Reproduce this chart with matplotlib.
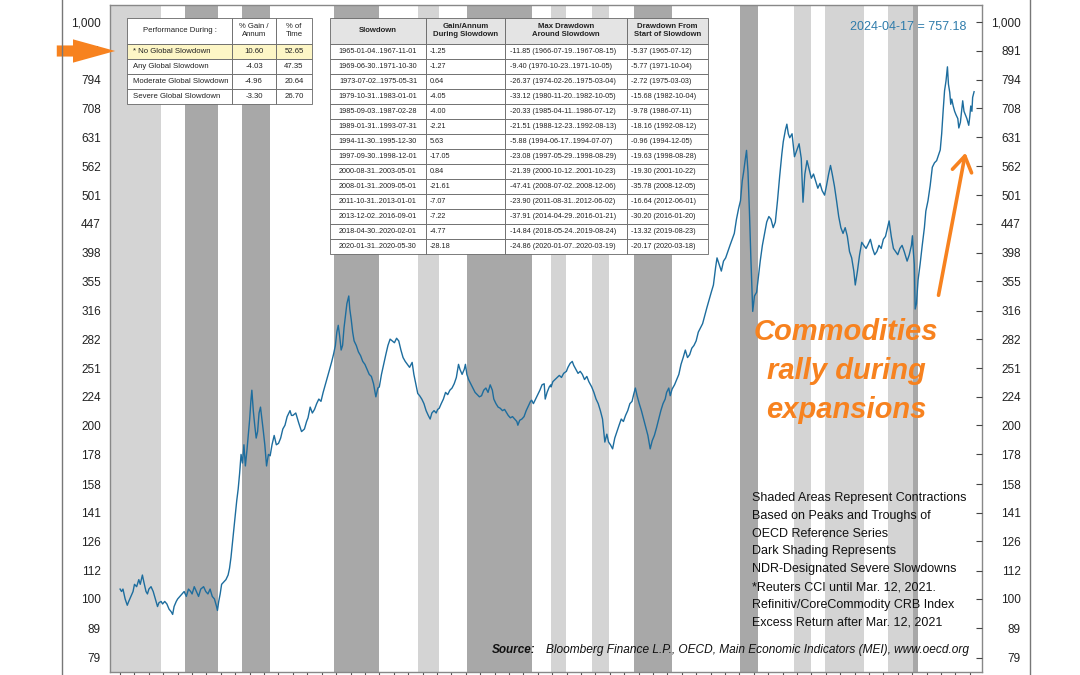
import matplotlib.pyplot as plt
from matplotlib.ticker import NullLocator

plt.rcParams['font.family'] = ['Liberation Sans', 'DejaVu Sans']

# commodity index (decimal year, index level)
years = [
    1965.0, 1965.1, 1965.2, 1965.35, 1965.5, 1965.6, 1965.75, 1965.9,
    1966.0, 1966.15, 1966.3, 1966.4, 1966.55, 1966.65, 1966.8, 1966.9,
    1967.0, 1967.15, 1967.3, 1967.45, 1967.6, 1967.7, 1967.85, 1967.95,
    1968.1, 1968.25, 1968.4, 1968.55, 1968.65, 1968.75, 1968.9,
    1969.0, 1969.15, 1969.3, 1969.45, 1969.6, 1969.75, 1969.9,
    1970.0, 1970.15, 1970.3, 1970.45, 1970.6, 1970.8, 1970.95,
    1971.1, 1971.25, 1971.4, 1971.55, 1971.7, 1971.76, 1971.85, 1971.95,
    1972.05, 1972.2, 1972.35, 1972.5, 1972.6, 1972.7, 1972.8, 1972.9,
    1973.0, 1973.1, 1973.2, 1973.3, 1973.4, 1973.5, 1973.6, 1973.7, 1973.8, 1973.9,
    1974.0, 1974.08, 1974.15, 1974.25, 1974.35, 1974.45, 1974.55, 1974.65, 1974.75, 1974.85, 1974.95,
    1975.05, 1975.17, 1975.3, 1975.42, 1975.55, 1975.7, 1975.85,
    1976.0, 1976.15, 1976.3, 1976.45, 1976.6, 1976.8, 1976.9,
    1977.0, 1977.2, 1977.4, 1977.6, 1977.8, 1977.95,
    1978.05, 1978.2, 1978.35, 1978.5, 1978.65, 1978.8, 1978.95,
    1979.1, 1979.25, 1979.4, 1979.55, 1979.7, 1979.83, 1979.95,
    1980.05, 1980.15, 1980.25, 1980.35, 1980.45, 1980.55, 1980.65, 1980.75, 1980.88, 1980.95,
    1981.05, 1981.15, 1981.25, 1981.4, 1981.55, 1981.7, 1981.85,
    1982.0, 1982.15, 1982.3, 1982.45, 1982.6, 1982.76, 1982.9,
    1983.0, 1983.15, 1983.3, 1983.45, 1983.6, 1983.75, 1983.9,
    1984.05, 1984.2, 1984.35, 1984.5, 1984.65, 1984.8, 1984.95,
    1985.1, 1985.28, 1985.4, 1985.55, 1985.67, 1985.8, 1985.95,
    1986.1, 1986.25, 1986.4, 1986.53, 1986.65, 1986.8, 1986.95,
    1987.05, 1987.16, 1987.3, 1987.45, 1987.6, 1987.75, 1987.9,
    1988.05, 1988.2, 1988.35, 1988.5, 1988.6, 1988.75, 1988.9, 1988.98,
    1989.08, 1989.2, 1989.35, 1989.5, 1989.65, 1989.8, 1989.95,
    1990.1, 1990.25, 1990.4, 1990.55, 1990.7, 1990.85, 1990.95,
    1991.1, 1991.25, 1991.4, 1991.55, 1991.7, 1991.85, 1991.95,
    1992.1, 1992.25, 1992.4, 1992.55, 1992.62, 1992.75, 1992.9,
    1993.05, 1993.2, 1993.35, 1993.5, 1993.58, 1993.7, 1993.85,
    1994.0, 1994.15, 1994.3, 1994.45, 1994.52, 1994.65, 1994.8, 1994.91, 1994.93,
    1995.05, 1995.2, 1995.35, 1995.5, 1995.65, 1995.8, 1995.99,
    1996.1, 1996.25, 1996.4, 1996.5, 1996.65, 1996.8, 1996.95,
    1997.1, 1997.25, 1997.41, 1997.55, 1997.75, 1997.9,
    1998.05, 1998.2, 1998.35, 1998.5, 1998.66, 1998.8, 1998.92,
    1999.05, 1999.2, 1999.35, 1999.5, 1999.65, 1999.8, 1999.95,
    2000.1, 2000.25, 2000.4, 2000.55, 2000.66, 2000.78, 2000.9,
    2001.05, 2001.2, 2001.35, 2001.5, 2001.65, 2001.81, 2001.95,
    2002.1, 2002.25, 2002.4, 2002.55, 2002.7, 2002.85, 2002.95,
    2003.1, 2003.2, 2003.33, 2003.5, 2003.65, 2003.8, 2003.95,
    2004.1, 2004.25, 2004.4, 2004.55, 2004.7, 2004.85,
    2005.0, 2005.15, 2005.3, 2005.45, 2005.6, 2005.75, 2005.9,
    2006.05, 2006.2, 2006.35, 2006.45, 2006.6, 2006.75, 2006.9,
    2007.05, 2007.2, 2007.35, 2007.5, 2007.65, 2007.8, 2007.95,
    2008.08, 2008.2, 2008.3, 2008.4, 2008.5, 2008.6, 2008.7, 2008.8, 2008.93,
    2009.05, 2009.2, 2009.33, 2009.45, 2009.6, 2009.75, 2009.9,
    2010.05, 2010.2, 2010.35, 2010.5, 2010.65, 2010.8, 2010.95,
    2011.05, 2011.2, 2011.3, 2011.4, 2011.5, 2011.66, 2011.83,
    2012.0, 2012.15, 2012.3, 2012.42, 2012.55, 2012.7, 2012.85,
    2013.0, 2013.15, 2013.3, 2013.45, 2013.6, 2013.75, 2013.92,
    2014.05, 2014.2, 2014.33, 2014.45, 2014.6, 2014.75, 2014.9,
    2015.05, 2015.2, 2015.35, 2015.5, 2015.65, 2015.8, 2015.95,
    2016.05, 2016.2, 2016.35, 2016.5, 2016.67, 2016.8, 2016.95,
    2017.1, 2017.25, 2017.4, 2017.55, 2017.7, 2017.85,
    2018.0, 2018.15, 2018.33, 2018.4, 2018.55, 2018.7, 2018.85,
    2019.0, 2019.15, 2019.3, 2019.45, 2019.65, 2019.8, 2019.95,
    2020.02, 2020.08, 2020.15, 2020.21, 2020.3, 2020.41, 2020.55, 2020.7, 2020.85, 2020.95,
    2021.1, 2021.25, 2021.4, 2021.55, 2021.7, 2021.85, 2021.95,
    2022.05, 2022.15, 2022.25, 2022.35, 2022.45, 2022.52, 2022.61, 2022.68, 2022.75, 2022.85, 2022.95,
    2023.05, 2023.17, 2023.24, 2023.35, 2023.51, 2023.6, 2023.7, 2023.8, 2023.93,
    2024.0, 2024.07, 2024.15, 2024.2, 2024.3]
index_values = [
    104, 103, 104, 100, 97.5, 99, 101, 103,
    106, 105, 108, 106, 110, 107, 103, 102,
    104, 105, 103, 100, 97, 98.5, 99, 98,
    99, 98, 96, 95, 94, 97, 99,
    100, 101, 102, 103, 101, 104, 103,
    102, 105, 103, 101, 104, 105, 103,
    102, 104, 101, 100, 97, 95.5, 99, 102,
    106, 107, 108, 110, 113, 118, 125, 133,
    140, 148, 155, 165, 178, 172, 185, 170, 180, 192,
    205, 220, 230, 212, 200, 190, 195, 210, 215, 205, 195,
    185, 170, 178, 177, 185, 192, 185,
    186, 190, 197, 200, 207, 212, 208,
    208, 210, 202, 195, 197, 203,
    206, 215, 210, 213, 218, 222, 220,
    228, 235, 242, 250, 258, 266, 275,
    290, 298, 285, 270, 275, 295, 310, 325, 335, 318,
    305, 290, 280, 275, 268, 264, 258,
    255, 250, 245, 243, 236, 224, 232,
    233, 245, 255, 265, 275, 282, 280,
    278, 283, 280, 270, 262, 258, 255,
    252, 257, 245, 235, 227, 225, 222,
    218, 212, 208, 205, 210, 212, 210,
    213, 214, 218, 222, 228, 226, 230,
    232, 236, 242, 255, 250, 245, 250, 255,
    245, 240, 236, 232, 228, 226, 224,
    225, 230, 232, 228, 235, 230, 222,
    218, 215, 214, 212, 213, 210, 208,
    206, 207, 205, 203, 200, 204, 205,
    207, 212, 216, 220, 221, 218, 222,
    226, 230, 235, 236, 222, 228, 233, 235, 233,
    238, 240, 242, 244, 242, 246, 248,
    252, 256, 258, 254, 250, 246, 248,
    245, 240, 243, 238, 233, 228,
    222, 218, 212, 205, 187, 193, 187,
    185, 182, 190, 195, 200, 205, 203,
    208, 212, 218, 220, 226, 232, 225,
    218, 212, 205, 198, 192, 182, 188,
    192, 198, 205, 212, 218, 222, 228,
    232, 225, 231, 235, 240, 245, 255,
    262, 270, 262, 265, 272, 275,
    280, 290, 295, 300, 310, 320, 330,
    340, 350, 375, 390, 380, 370, 385,
    390, 400, 410, 420, 430, 455, 475,
    490, 530, 550, 575, 599, 550, 470, 390, 315,
    335, 340, 362, 385, 410, 430, 450,
    460, 455, 440, 450, 490, 540, 590,
    620, 650, 665, 640, 630, 640, 584,
    600, 615, 580, 487, 545, 575, 555,
    536, 545, 530, 515, 525, 510, 501,
    520, 545, 564, 545, 520, 490, 460,
    440, 430, 440, 425, 400, 390, 370,
    350, 370, 395, 415, 409, 405, 412,
    420, 405, 395, 400, 410, 405,
    420, 425, 444, 452, 425, 405, 400,
    395, 405, 410, 400, 385, 395, 410,
    426, 401, 380, 318, 325, 357, 380, 410, 440, 470,
    490, 520, 560, 570, 575, 590, 600,
    640, 700, 760, 790, 836, 780, 755, 720, 735, 715, 700,
    690, 680, 655, 670, 730, 700, 690, 680, 662,
    685, 715, 700, 740, 757]

# OECD-based slowdowns, start / end in decimal years; severe ones get dark shading
band_start = [1964.3, 1969.49, 1973.5, 1979.83, 1985.67, 1989.08, 1994.91, 1997.75,
              2000.66, 2008.08, 2011.83, 2013.92, 2018.33, 2020.08]
band_end = [1967.83, 1971.83, 1975.41, 1983.0, 1987.16, 1993.58, 1995.99, 1998.92,
            2003.33, 2009.33, 2013.0, 2016.67, 2020.08, 2020.41]
band_severe = [False, True, True, True, False, True, False, False,
               True, True, False, False, False, True]

tick_values = [79, 89, 100, 112, 126, 141, 158, 178, 200, 224, 251, 282, 316, 355,
               398, 447, 501, 562, 631, 708, 794, 891, 1000]
tick_labels = ['79', '89', '100', '112', '126', '141', '158', '178', '200', '224',
               '251', '282', '316', '355', '398', '447', '501', '562', '631', '708',
               '794', '891', '1,000']

perf_rows = [['Performance During :', '% Gain /\nAnnum', '% of\nTime'],
             ['* No Global Slowdown', '10.60', '52.65'],
             ['Any Global Slowdown', '-4.03', '47.35'],
             ['Moderate Global Slowdown', '-4.96', '20.64'],
             ['Severe Global Slowdown', '-3.30', '26.70']]

slow_header = ['Slowdown', 'Gain/Annum\nDuring Slowdown', 'Max Drawdown\nAround Slowdown',
               'Drawdown From\nStart of Slowdown']
slow_periods = ['1965-01-04..1967-11-01', '1969-06-30..1971-10-30', '1973-07-02..1975-05-31',
                '1979-10-31..1983-01-01', '1985-09-03..1987-02-28', '1989-01-31..1993-07-31',
                '1994-11-30..1995-12-30', '1997-09-30..1998-12-01', '2000-08-31..2003-05-01',
                '2008-01-31..2009-05-01', '2011-10-31..2013-01-01', '2013-12-02..2016-09-01',
                '2018-04-30..2020-02-01', '2020-01-31..2020-05-30']
slow_gain = ['-1.25', '-1.27', '0.64', '-4.05', '-4.00', '-2.21', '5.63', '-17.05', '0.84',
             '-21.61', '-7.07', '-7.22', '-4.77', '-28.18']
slow_maxdd = ['-11.85 (1966-07-19..1967-08-15)', '-9.40 (1970-10-23..1971-10-05)',
              '-26.37 (1974-02-26..1975-03-04)', '-33.12 (1980-11-20..1982-10-05)',
              '-20.33 (1985-04-11..1986-07-12)', '-21.51 (1988-12-23..1992-08-13)',
              '-5.88 (1994-06-17..1994-07-07)', '-23.08 (1997-05-29..1998-08-29)',
              '-21.39 (2000-10-12..2001-10-23)', '-47.41 (2008-07-02..2008-12-06)',
              '-23.90 (2011-08-31..2012-06-02)', '-37.91 (2014-04-29..2016-01-21)',
              '-14.84 (2018-05-24..2019-08-24)', '-24.86 (2020-01-07..2020-03-19)']
slow_ddstart = ['-5.37 (1965-07-12)', '-5.77 (1971-10-04)', '-2.72 (1975-03-03)',
                '-15.68 (1982-10-04)', '-9.78 (1986-07-11)', '-18.16 (1992-08-12)',
                '-0.96 (1994-12-05)', '-19.63 (1998-08-28)', '-19.30 (2001-10-22)',
                '-35.78 (2008-12-05)', '-16.64 (2012-06-01)', '-30.20 (2016-01-20)',
                '-13.32 (2019-08-23)', '-20.17 (2020-03-18)']

notes = ['Shaded Areas Represent Contractions', 'Based on Peaks and Troughs of',
         'OECD Reference Series', 'Dark Shading Represents',
         'NDR-Designated Severe Slowdowns', '*Reuters CCI until Mar. 12, 2021.',
         'Refinitiv/CoreCommodity CRB Index', 'Excess Return after Mar. 12, 2021']

LINE = '#1d6d9e'
ORANGE = '#f7821f'


def ax_xy(px, py):
    # pixel position of the reference -> axes fraction
    return (px - 110) / 872, (672 - py) / 667


def set_align(cell, ha):
    cell._loc = ha
    cell.get_text().set_horizontalalignment(ha)


fig = plt.figure(figsize=(10.8, 6.75), dpi=100)
ax = fig.add_axes([110 / 1080, 3 / 675, 872 / 1080, 667 / 675])

for s, e, sev in zip(band_start, band_end, band_severe):
    ax.axvspan(s, e, color='#a8a8a8' if sev else '#d4d4d4', lw=0, zorder=0)

ax.plot(years, index_values, color=LINE, lw=1.0, zorder=3)

ax.set_yscale('log')
ax.set_ylim(74.7, 1070)
ax.set_xlim(1964.3, 2024.85)
ax.yaxis.set_minor_locator(NullLocator())
ax.set_yticks(tick_values, tick_labels)
ax.tick_params(axis='y', length=0, pad=6.5, labelsize=8.5, colors='#222222')
ax.set_xticks(range(1965, 2025))
ax.tick_params(axis='x', direction='out', length=4, color='#555555', labelbottom=False)
for sp in ax.spines.values():
    sp.set_color('#888888')
    sp.set_linewidth(1.0)

ax2 = ax.twinx()
ax2.set_yscale('log')
ax2.set_ylim(ax.get_ylim())
ax2.yaxis.set_minor_locator(NullLocator())
ax2.set_yticks(tick_values, tick_labels)
ax2.tick_params(axis='y', direction='in', length=4, pad=28, labelsize=8.5,
                color='#444444', labelcolor='#222222')
for lbl in ax2.get_yticklabels():
    lbl.set_horizontalalignment('right')
ax2.spines[:].set_visible(False)

# performance summary table
x0, y1 = ax_xy(127, 104)
x1, y2 = ax_xy(312, 18)
t1 = ax.table(cellText=perf_rows, colWidths=[105, 44, 36], cellLoc='center',
              bbox=[x0, y1, x1 - x0, y2 - y1], zorder=5)
t1.auto_set_font_size(False)
for (r, c), cell in t1.get_celld().items():
    cell.set_fontsize(5.6)
    cell.set_edgecolor('#666666')
    cell.set_linewidth(0.6)
    cell.set_height(26 if r == 0 else 15)
    cell.get_text().set_color('#222222')
    if r == 1:
        cell.set_facecolor('#fdf6c6')
    if c == 0 and r > 0:
        cell.PAD = 0.055
        set_align(cell, 'left')

# slowdown table
x0, y1 = ax_xy(330, 254)
x1, y2 = ax_xy(708, 18)
rows = [slow_header] + [list(r) for r in zip(slow_periods, slow_gain, slow_maxdd, slow_ddstart)]
t2 = ax.table(cellText=rows, colWidths=[96, 79, 122, 81], cellLoc='left',
              bbox=[x0, y1, x1 - x0, y2 - y1], zorder=5)
t2.auto_set_font_size(False)
for (r, c), cell in t2.get_celld().items():
    cell.set_fontsize(5.2)
    cell.set_edgecolor('#666666')
    cell.set_linewidth(0.6)
    cell.set_height(26 if r == 0 else 15)
    cell.PAD = 0.045
    cell.get_text().set_color('#222222')
    if r == 0:
        cell.set_facecolor('#e4e4e4')
        set_align(cell, 'center')
        cell.get_text().set_fontweight('bold')
        cell.get_text().set_fontsize(5.6)
    elif c == 0:
        set_align(cell, 'center')

ax.text(*ax_xy(966, 27), '2024-04-17 = 757.18', color='#2f7cab', fontsize=9,
        ha='right', va='center', transform=ax.transAxes, zorder=6)

ax.text(*ax_xy(846, 371), 'Commodities\nrally during\nexpansions', color=ORANGE,
        fontsize=21, fontweight='bold', fontstyle='italic', ha='center', va='center',
        linespacing=1.5, transform=ax.transAxes, zorder=6)

for i, line in enumerate(notes):
    ax.text(*ax_xy(752, 498 + 17.8 * i), line, fontsize=9, color='#111111',
            ha='left', va='center', transform=ax.transAxes, zorder=6)

ax.text(*ax_xy(492, 650), 'Source:', fontsize=8.5, fontweight='bold', fontstyle='italic',
        color='#111111', ha='left', va='center', transform=ax.transAxes, zorder=6)
ax.text(*ax_xy(546, 650), 'Bloomberg Finance L.P., OECD, Main Economic Indicators (MEI), www.oecd.org',
        fontsize=8.6, fontstyle='italic', color='#111111', ha='left', va='center',
        transform=ax.transAxes, zorder=6)

# arrows
ax.annotate('', xy=ax_xy(966, 150), xytext=ax_xy(938, 298), xycoords='axes fraction',
            arrowprops=dict(arrowstyle='->,head_length=0.55,head_width=0.35', color=ORANGE,
                            lw=2.6, mutation_scale=20), zorder=6)
ax.annotate('', xy=(118, 675 - 51), xytext=(54, 675 - 51), xycoords='figure pixels',
            arrowprops=dict(arrowstyle='simple,head_width=1.05,head_length=1.9,tail_width=0.5',
                            color=ORANGE, lw=0, mutation_scale=16), annotation_clip=False,
            zorder=7)

# page borders
fig.add_artist(plt.Line2D([62 / 1080, 62 / 1080], [0, 1], color='#777777', lw=1.0))
fig.add_artist(plt.Line2D([1030 / 1080, 1030 / 1080], [0, 1], color='#777777', lw=1.0))

fig.savefig('out.png', dpi=100)
